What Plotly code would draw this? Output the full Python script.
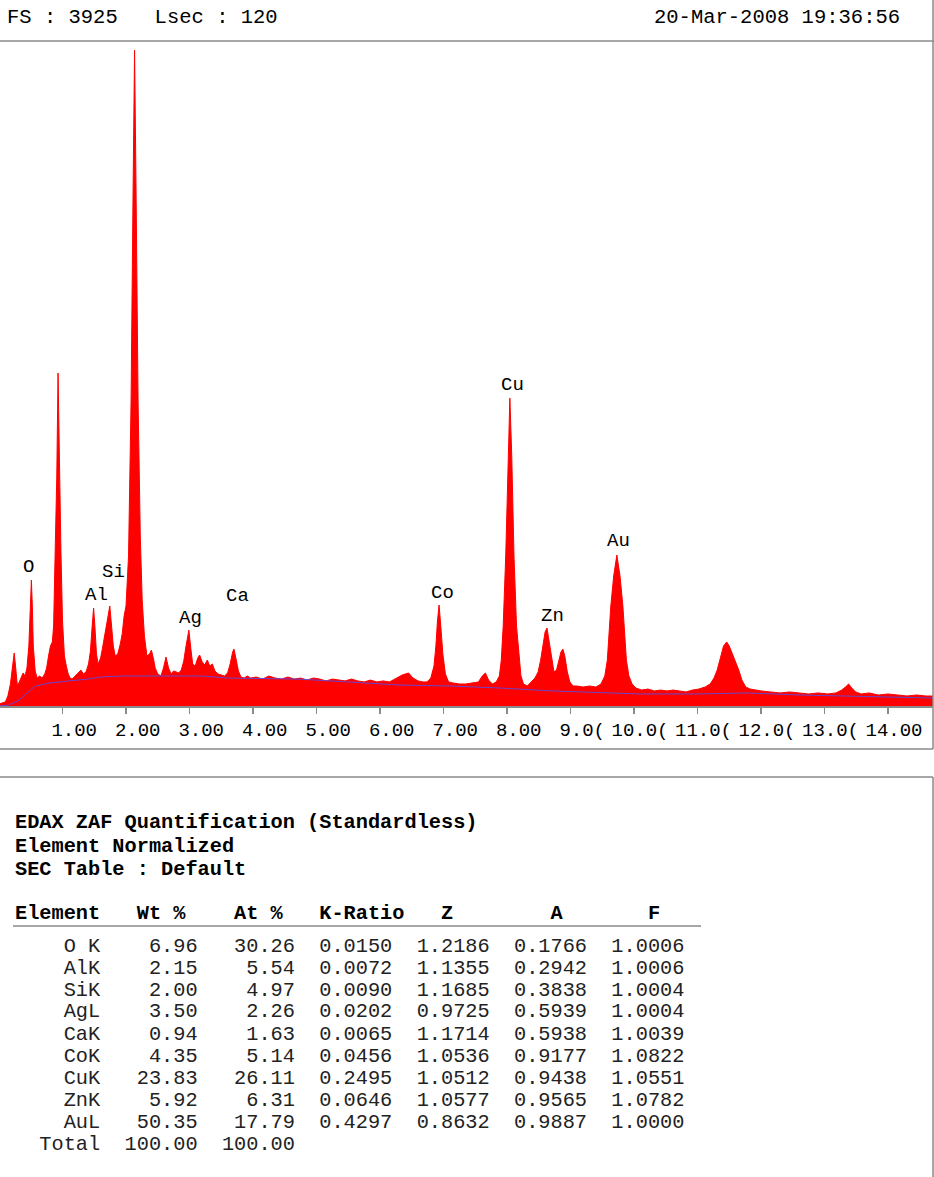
import plotly.graph_objects as go

# ---------------- spectrum data (keV, counts) ----------------
energy_kev = [
    0.00, 0.05, 0.10, 0.14, 0.18, 0.21, 0.24, 0.26, 0.29, 0.32, 0.35, 0.38, 0.41, 0.44, 0.47, 0.49, 0.51, 0.525, 0.54, 0.57, 0.60, 0.64, 0.68,
    0.72, 0.75, 0.78, 0.81, 0.84, 0.86, 0.885, 0.91, 0.93, 0.95, 0.975, 1.00, 1.03, 1.06, 1.09, 1.12,
    1.15, 1.20, 1.25, 1.29, 1.33, 1.37, 1.41, 1.44, 1.465, 1.49, 1.51, 1.535, 1.56, 1.60, 1.63, 1.66, 1.69, 1.72, 1.745, 1.77, 1.80, 1.83, 1.87, 1.91, 1.94, 1.97,
    2.00, 2.04, 2.08, 2.11, 2.135, 2.16, 2.19, 2.225, 2.255, 2.29, 2.33, 2.37, 2.40, 2.43, 2.46, 2.50,
    2.55, 2.59, 2.63, 2.67, 2.71, 2.75, 2.79, 2.83, 2.87, 2.91, 2.94, 2.97, 2.99, 3.02, 3.05, 3.09, 3.13, 3.16, 3.20, 3.24, 3.28, 3.32, 3.36, 3.40, 3.45, 3.50, 3.55, 3.60, 3.64, 3.68, 3.70, 3.73, 3.77, 3.81, 3.86, 3.91, 3.96,
    4.05, 4.15, 4.25, 4.35, 4.45, 4.55, 4.65, 4.75, 4.85, 4.95, 5.05, 5.15, 5.25, 5.35, 5.45, 5.55, 5.65, 5.75, 5.85, 5.95, 6.05, 6.15, 6.25, 6.35, 6.45, 6.52, 6.60, 6.68,
    6.74, 6.80, 6.85, 6.88, 6.905, 6.93, 6.955, 6.99, 7.03, 7.08,
    7.15, 7.25, 7.35, 7.45, 7.55, 7.61, 7.66, 7.71, 7.77, 7.83,
    7.88, 7.91, 7.94, 7.98, 8.015, 8.045, 8.075, 8.11, 8.15, 8.19, 8.22, 8.26,
    8.32, 8.38, 8.44, 8.49, 8.53, 8.57, 8.60, 8.63, 8.66, 8.70, 8.74, 8.78, 8.82, 8.85, 8.88, 8.91, 8.95, 8.99, 9.04,
    9.10, 9.20, 9.30, 9.40, 9.48, 9.54, 9.58, 9.635, 9.68, 9.73, 9.78, 9.825, 9.88, 9.92, 9.97, 10.03,
    10.12, 10.22, 10.32, 10.42, 10.52, 10.62, 10.72, 10.82, 10.92, 11.02, 11.12,
    11.20, 11.26, 11.31, 11.36, 11.41, 11.46, 11.50, 11.55, 11.60, 11.65, 11.70, 11.76, 11.83, 11.90,
    12.00, 12.15, 12.30, 12.45, 12.60, 12.75, 12.90, 13.05, 13.18, 13.27, 13.33, 13.38, 13.43, 13.49, 13.58, 13.70, 13.85, 14.00, 14.15, 14.30, 14.45, 14.60, 14.72,
]
counts = [
    12, 18, 24, 59, 130, 224, 313, 236, 118, 142, 165, 195, 177, 224, 354, 561, 743, 590, 354, 207, 165, 177, 165,
    189, 224, 295, 354, 378, 472, 920, 1357, 1965, 1357, 920, 502, 295, 236, 189, 165,
    159, 177, 195, 212, 189, 201, 248, 325, 460, 578, 472, 307, 248, 283, 342, 401, 472, 543, 590, 484, 354, 295, 307, 366, 425, 531,
    590, 885, 1805, 2985, 3870, 2985, 1805, 1003, 625, 413, 295, 307, 330, 283, 224, 189,
    177, 224, 289, 224, 189, 207, 201, 195, 212, 266, 342, 425, 448, 342, 248, 236, 283, 301, 260, 242, 271, 236, 248, 207, 189, 183, 177, 195, 248, 319, 336, 283, 207, 171, 165, 177, 165,
    171, 159, 177, 165, 159, 171, 159, 165, 153, 165, 159, 148, 159, 153, 148, 159, 148, 142, 153, 142, 148, 142, 165, 183, 195, 165, 148, 142,
    142, 165, 236, 354, 502, 596, 484, 307, 189, 142,
    136, 130, 130, 136, 142, 177, 195, 153, 130, 142,
    177, 271, 472, 885, 1475, 1817, 1475, 885, 472, 271, 177, 130,
    118, 142, 165, 201, 271, 366, 437, 460, 389, 271, 201, 212, 271, 319, 336, 295, 201, 142, 118,
    118, 112, 118, 112, 130, 177, 271, 590, 767, 891, 767, 590, 271, 177, 130, 106,
    94, 100, 89, 94, 89, 94, 89, 83, 94, 100, 112,
    130, 165, 212, 283, 354, 378, 354, 307, 260, 212, 153, 112, 100, 94,
    89, 83, 77, 83, 77, 71, 77, 71, 77, 94, 112, 130, 106, 83, 71, 77, 65, 71, 65, 59, 65, 59, 59,
]
assert len(energy_kev) == len(counts)

# background fit (blue line)
bg_kev = [0, 0.15, 0.3, 0.41, 0.57, 0.8, 1.12, 1.4, 1.6, 1.9, 2.5, 3.2, 3.6, 4.7, 5.5, 6.3,
          7.1, 7.9, 8.7, 9.5, 10.1, 11.0, 11.8, 12.6, 13.4, 14.72]
bg_counts = [0, 6, 30, 65, 118, 136, 148, 159, 171, 177, 177, 177, 165, 159, 142, 124,
             118, 106, 89, 77, 71, 71, 77, 65, 59, 47]

full_scale = 3925
tick_values = [1, 2, 3, 4, 5, 6, 7, 8, 9, 10, 11, 12, 13, 14]
tick_labels = ["1.00", "2.00", "3.00", "4.00", "5.00", "6.00", "7.00", "8.00",
               "9.0(", "10.0(", "11.0(", "12.0(", "13.0(", "14.00"]

# peak labels
peak_names = ["O", "Al", "Si", "Ag", "Ca", "Co", "Cu", "Zn", "Au"]
peak_label_kev = [0.47, 1.54, 1.80, 3.02, 3.75, 6.99, 8.09, 8.71, 9.76]
peak_label_counts = [820, 655, 791, 519, 649, 667, 1895, 531, 974]

# quantification table
elements = ["O K", "AlK", "SiK", "AgL", "CaK", "CoK", "CuK", "ZnK", "AuL"]
wt_pct = [6.96, 2.15, 2.00, 3.50, 0.94, 4.35, 23.83, 5.92, 50.35]
at_pct = [30.26, 5.54, 4.97, 2.26, 1.63, 5.14, 26.11, 6.31, 17.79]
k_ratio = [0.0150, 0.0072, 0.0090, 0.0202, 0.0065, 0.0456, 0.2495, 0.0646, 0.4297]
z_corr = [1.2186, 1.1355, 1.1685, 0.9725, 1.1714, 1.0536, 1.0512, 1.0577, 0.8632]
a_corr = [0.1766, 0.2942, 0.3838, 0.5939, 0.5938, 0.9177, 0.9438, 0.9565, 0.9887]
f_corr = [1.0006, 1.0006, 1.0004, 1.0004, 1.0039, 1.0822, 1.0551, 1.0782, 1.0000]
total_wt = 100.00
total_at = 100.00

header_left = "FS : 3925   Lsec : 120"
header_right = "20-Mar-2008 19:36:56"
title_lines = ["EDAX ZAF Quantification (Standardless)", "Element Normalized", "SEC Table : Default"]

# ---------------- layout helpers (pixel -> paper) ----------------
W, H = 934, 1177
PL, PR, PT, PB = 0, 933, 41, 706
def xp(px):
    return (px - PL) / (PR - PL)
def yp(py):
    return (PB - py) / (PB - PT)

MONO = "Liberation Mono, Courier New, monospace"
NB = "\u00a0"
GRAY = "#8a8a8a"

fig = go.Figure()
fig.add_trace(go.Scatter(
    x=energy_kev, y=counts, mode="lines", fill="tozeroy",
    fillcolor="#ff0000", line=dict(color="#ff0000", width=1),
    hoverinfo="skip", showlegend=False,
))
fig.add_trace(go.Scatter(
    x=bg_kev, y=bg_counts, mode="lines",
    line=dict(color="rgba(80,80,240,0.85)", width=1),
    hoverinfo="skip", showlegend=False,
))

x0 = (PL + 1) / 63.5
x1 = (PR + 1) / 63.5
fig.update_xaxes(
    range=[x0, x1], showgrid=False, zeroline=False,
    showline=True, linecolor=GRAY, linewidth=1.5,
    ticks="outside", ticklen=6, tickwidth=1.5, tickcolor=GRAY,
    tickvals=tick_values,
    ticktext=[(NB * (2 - t.index("."))) + t for t in tick_labels],
    tickfont=dict(family=MONO, size=19, color="black"),
    ticklabelshift=6,
)
fig.update_yaxes(range=[0, full_scale * (PB - PT) / 665], visible=False)

ann = []
# header texts
ann.append(dict(x=xp(5), y=yp(17), xref="paper", yref="paper", xanchor="left", yanchor="middle",
                text=header_left.replace(" ", NB), showarrow=False,
                font=dict(family=MONO, size=20.5, color="black")))
ann.append(dict(x=xp(902), y=yp(17), xref="paper", yref="paper", xanchor="right", yanchor="middle",
                text=header_right.replace(" ", NB), showarrow=False,
                font=dict(family=MONO, size=20.5, color="black")))
# peak labels
for name, ex, cy in zip(peak_names, peak_label_kev, peak_label_counts):
    ann.append(dict(x=ex, y=cy, xref="x", yref="y", text=name, showarrow=False,
                    xanchor="center", yanchor="middle",
                    font=dict(family=MONO, size=19, color="black")))
# table title lines
for i, line in enumerate(title_lines):
    ann.append(dict(x=xp(13), y=yp(823 + 23 * i), xref="paper", yref="paper",
                    xanchor="left", yanchor="middle", text="<b>" + line.replace(" ", NB) + "</b>",
                    showarrow=False, font=dict(family=MONO, size=20.3, color="black")))
# table header row
hdr = ("Element".ljust(10) + "Wt %".ljust(8) + "At %".ljust(7) + "K-Ratio".ljust(10)
       + "Z".ljust(9) + "A".ljust(8) + "F")
ann.append(dict(x=xp(13), y=yp(914), xref="paper", yref="paper", xanchor="left", yanchor="middle",
                text="<b>" + hdr.replace(" ", NB) + "</b>", showarrow=False,
                font=dict(family=MONO, size=20.3, color="black")))
# table rows
for i in range(len(elements)):
    row = (elements[i].rjust(7) + f"{wt_pct[i]:.2f}".rjust(8) + f"{at_pct[i]:.2f}".rjust(8)
           + f"{k_ratio[i]:.4f}".rjust(8) + f"{z_corr[i]:.4f}".rjust(8)
           + f"{a_corr[i]:.4f}".rjust(8) + f"{f_corr[i]:.4f}".rjust(8))
    ann.append(dict(x=xp(13), y=yp(946 + 22 * i), xref="paper", yref="paper",
                    xanchor="left", yanchor="middle", text=row.replace(" ", NB), showarrow=False,
                    font=dict(family=MONO, size=20.3, color="#222222")))
total_row = "Total".rjust(7) + f"{total_wt:.2f}".rjust(8) + f"{total_at:.2f}".rjust(8)
ann.append(dict(x=xp(13), y=yp(946 + 22 * len(elements)), xref="paper", yref="paper",
                xanchor="left", yanchor="middle", text=total_row.replace(" ", NB), showarrow=False,
                font=dict(family=MONO, size=20.3, color="#222222")))

ln = dict(color=GRAY, width=1.5)
shapes = [
    dict(type="line", xref="paper", yref="paper", x0=xp(0), x1=xp(W), y0=yp(41), y1=yp(41), line=ln),
    dict(type="line", xref="paper", yref="paper", x0=xp(933), x1=xp(933), y0=yp(0), y1=yp(749), line=ln),
    dict(type="line", xref="paper", yref="paper", x0=xp(933), x1=xp(933), y0=yp(777), y1=yp(H), line=ln),
    dict(type="line", xref="paper", yref="paper", x0=xp(0), x1=xp(933), y0=yp(749), y1=yp(749), line=ln),
    dict(type="line", xref="paper", yref="paper", x0=xp(0), x1=xp(933), y0=yp(777), y1=yp(777), line=ln),
    dict(type="line", xref="paper", yref="paper", x0=xp(13), x1=xp(701), y0=yp(926), y1=yp(926), line=ln),
]

fig.update_layout(
    width=W, height=H,
    margin=dict(l=PL, r=W - PR, t=PT, b=H - PB, pad=0),
    paper_bgcolor="white", plot_bgcolor="white",
    annotations=ann, shapes=shapes, showlegend=False,
)

fig.write_html(
    "out.html",
    config={"displayModeBar": False, "staticPlot": True},
    post_script="document.body.style.margin='0';document.body.style.overflow='hidden';",
)
